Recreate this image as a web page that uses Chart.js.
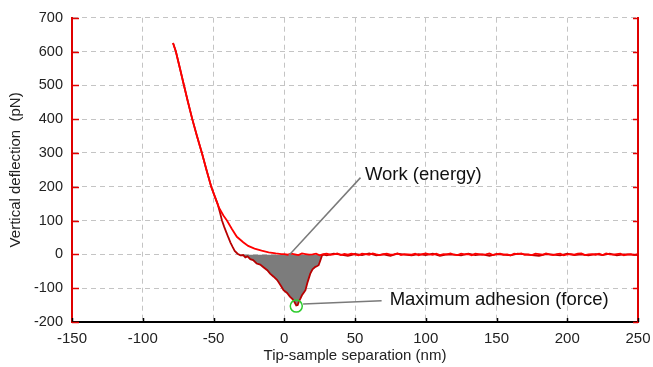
<!DOCTYPE html>
<html>
<head>
<meta charset="utf-8">
<script src="https://cdn.jsdelivr.net/npm/chart.js@4.4.1/dist/chart.umd.min.js"></script>
<style>
  html, body { margin: 0; padding: 0; background: #fff; }
  #wrap { width: 653px; height: 367px; }
</style>
</head>
<body>
<div id="wrap"><canvas id="forceChart" width="653" height="367"></canvas></div>
<script>
// ============================
// Data
// ============================
const xTicks = [-150, -100, -50, 0, 50, 100, 150, 200, 250];
const yTicks = [-200, -100, 0, 100, 200, 300, 400, 500, 600, 700];

// approach curve (tip moving toward sample)
const approachX = [-78.6, -76.6, -73.7, -70.9, -68, -65, -61.7, -58.2, -55, -51.6, -48.5, -46, -43, -40.5, -37, -33.5, -29, -25.5, -21, -16, -11, -6, -2,
  0, 2.5, 5, 7.5, 10, 12.5, 15, 17.5, 20, 22.5,
  25, 27.5, 30, 32.5, 35, 37.5, 40, 42.5, 45, 47.5,
  50, 52.5, 55, 57.5, 60, 62.5, 65, 67.5, 70, 72.5,
  75, 77.5, 80, 82.5, 85, 87.5, 90, 92.5, 95, 97.5,
  100, 102.5, 105, 107.5, 110, 112.5, 115, 117.5, 120, 122.5,
  125, 127.5, 130, 132.5, 135, 137.5, 140, 142.5, 145, 147.5,
  150, 152.5, 155, 157.5, 160, 162.5, 165, 167.5, 170, 172.5,
  175, 177.5, 180, 182.5, 185, 187.5, 190, 192.5, 195, 197.5,
  200, 202.5, 205, 207.5, 210, 212.5, 215, 217.5, 220, 222.5,
  225, 227.5, 230, 232.5, 235, 237.5, 240, 242.5, 245, 247.5,
  250];
const approachY = [625, 600, 550, 500, 450, 400, 350, 300, 250, 200, 165, 137, 115, 100, 75, 52, 36, 25, 17, 11, 6, 3, 1,
  1, -1, 2, 0, -2, 3, 1, -1, 0, 2,
  -3, 1, 2, -1, 0, 3, -2, 1, -1, 2,
  0, -3, 2, 1, -1, 3, 0, -2, 1, 2,
  -1, 0, 3, -2, 1, 0, -1, 2, -3, 1,
  3, 0, -1, 2, -2, 1, 0, 3, -1, -2,
  2, 0, 1, -3, 2, 1, -1, 0, 3, -2,
  1, 2, -1, 0, -3, 2, 1, 3, -1, 0,
  -2, 2, 1, -1, 3, 0, -2, 1, 2, -3,
  0, 1, -1, 2, 3, -2, 0, 1, -1, 2,
  -2, 3, 0, -1, 1, 2, -3, 0, 1, -2,
  1];

// retract curve (tip pulled away, adhesion dip)
const retractX = [-78.6, -76.6, -73.7, -70.9, -68, -65, -61.7, -58.2, -55, -51.6, -49, -47, -45.5, -44, -42.5, -41, -39.5, -38, -36.5, -35,
  -33, -31, -29, -27.5, -26, -24, -22, -19.5, -17, -14.7, -12, -10, -7.5, -5, -2.5, -0.5, 2, 4, 6, 7.5, 8.5, 9.5, 10.5, 11.5, 12.5, 14, 15,
  16.5, 18.4, 20, 22, 23, 24.3, 25.5, 26.7, 28,
  30, 35, 40, 45, 50, 55, 60, 65, 70, 75,
  80, 85, 90, 95, 100, 105, 110, 115, 120, 125,
  130, 135, 140, 145, 150, 155, 160, 165, 170, 175,
  180, 185, 190, 195, 200, 205, 210, 215, 220, 225,
  230, 235, 240, 245, 250];
const retractY = [625, 600, 550, 500, 450, 400, 350, 300, 250, 200, 170, 148, 125, 100, 82, 66, 50, 35, 22, 10,
  2, -3, -2, -9, -6, -14, -17, -27, -30, -38, -47, -57, -66, -76, -92, -106, -114, -125, -133, -143, -151, -150, -138, -130, -121, -112, -106,
  -82, -57, -44, -37, -35, -32, -18, -3, -1,
  -3, 2, -1, -4, 1, -2, 3, -3, 0, -4,
  2, -1, -3, 1, -2, 2, -4, 0, -1, -3,
  2, -2, 0, -4, 1, -1, -3, 2, 0, -2,
  -4, 1, -1, -3, 2, -2, 0, -3, 1, -2,
  2, -3, 0, -1, -2];

// maximum adhesion point
const adhesionX = [8.5];
const adhesionY = [-153];

const toPoints = (xs, ys) => xs.map((x, i) => ({ x, y: ys[i] }));
const workPoints = toPoints(retractX, retractY).filter(p => p.x >= -33 && p.x <= 28);

const FONT = "'Liberation Sans', Arial, Helvetica, sans-serif";
const RED = "#e00000";

// inside ticks + callouts
const extras = {
  id: "extras",
  afterDraw(chart) {
    const { ctx, chartArea: a, scales: { x, y } } = chart;
    ctx.save();
    ctx.lineWidth = 1.5;
    ctx.strokeStyle = "#000";
    xTicks.forEach(v => {
      const px = Math.round(x.getPixelForValue(v)) + 0.5;
      ctx.beginPath(); ctx.moveTo(px, a.bottom); ctx.lineTo(px, a.bottom - 4); ctx.stroke();
    });
    ctx.strokeStyle = RED;
    yTicks.forEach(v => {
      const py = Math.round(y.getPixelForValue(v)) + 0.5;
      ctx.beginPath(); ctx.moveTo(a.left, py); ctx.lineTo(a.left + 7, py); ctx.stroke();
      ctx.beginPath(); ctx.moveTo(a.right, py); ctx.lineTo(a.right - 5, py); ctx.stroke();
    });

    // callout lines
    ctx.strokeStyle = "#7a7a7a";
    ctx.lineWidth = 1.5;
    ctx.beginPath();
    ctx.moveTo(x.getPixelForValue(53.9), y.getPixelForValue(227));
    ctx.lineTo(x.getPixelForValue(3.2), y.getPixelForValue(-3));
    ctx.stroke();
    ctx.beginPath();
    ctx.moveTo(x.getPixelForValue(13.3), y.getPixelForValue(-147));
    ctx.lineTo(x.getPixelForValue(68.8), y.getPixelForValue(-137));
    ctx.stroke();

    ctx.fillStyle = "#111";
    ctx.font = `18.5px ${FONT}`;
    ctx.textBaseline = "middle";
    ctx.textAlign = "left";
    ctx.fillText("Work (energy)", x.getPixelForValue(57), y.getPixelForValue(234));
    ctx.fillText("Maximum adhesion (force)", x.getPixelForValue(74.5), y.getPixelForValue(-135));
    ctx.restore();
  }
};

new Chart(document.getElementById("forceChart"), {
  type: "line",
  data: {
    datasets: [
      {
        label: "Work", data: workPoints, order: 4,
        borderWidth: 0, pointRadius: 0, tension: 0,
        fill: { target: { value: 0 }, above: "rgba(0,0,0,0)", below: "#7c7c7c" }
      },
      {
        label: "Retract", data: toPoints(retractX, retractY), order: 3,
        borderColor: "#b80000", borderWidth: 1.8, pointRadius: 0, tension: 0, fill: false
      },
      {
        label: "Approach", data: toPoints(approachX, approachY), order: 2,
        borderColor: "#ff0000", borderWidth: 1.8, pointRadius: 0, tension: 0, fill: false
      },
      {
        label: "Max adhesion", data: toPoints(adhesionX, adhesionY), order: 1,
        showLine: false, pointRadius: 6, pointBorderWidth: 1.5,
        pointBorderColor: "#2ecc2e", pointBackgroundColor: "rgba(0,0,0,0)"
      }
    ]
  },
  options: {
    responsive: false,
    animation: false,
    devicePixelRatio: 1,
    layout: { padding: { top: 16, left: 0, right: 0, bottom: 0 } },
    plugins: { legend: { display: false }, tooltip: { enabled: false } },
    scales: {
      x: {
        type: "linear", min: -150, max: 250,
        afterBuildTicks: s => { s.ticks = xTicks.map(v => ({ value: v })); },
        afterFit: s => { s.height = 45; s.paddingLeft = 0; s.paddingRight = 0; },
        ticks: { color: "#222", font: { family: FONT, size: 15 }, padding: 8 },
        grid: { color: "#c4c4c4", lineWidth: 1, drawTicks: false },
        border: { color: "#000", width: 2, dash: [5, 4] },
        title: { display: true, text: "Tip-sample separation (nm)", color: "#222",
          font: { family: FONT, size: 15 }, padding: { top: 0, bottom: 2 } }
      },
      y: {
        type: "linear", min: -200, max: 700,
        afterBuildTicks: s => { s.ticks = yTicks.map(v => ({ value: v })); },
        afterFit: s => { s.width = 72; },
        ticks: { color: "#222", font: { family: FONT, size: 14.5 }, padding: 9 },
        grid: { color: "#c4c4c4", lineWidth: 1, drawTicks: false },
        border: { color: RED, width: 2, dash: [5, 4] },
        title: { display: true, text: "Vertical deflection  (pN)", color: "#222",
          font: { family: FONT, size: 15 }, padding: { top: 7, bottom: 0 } }
      },
      y2: {
        type: "linear", position: "right", min: -200, max: 700,
        afterFit: s => { s.width = 15; },
        ticks: { display: false },
        grid: { display: false, drawTicks: false },
        border: { color: RED, width: 2 }
      }
    }
  },
  plugins: [extras]
});
</script>
</body>
</html>
